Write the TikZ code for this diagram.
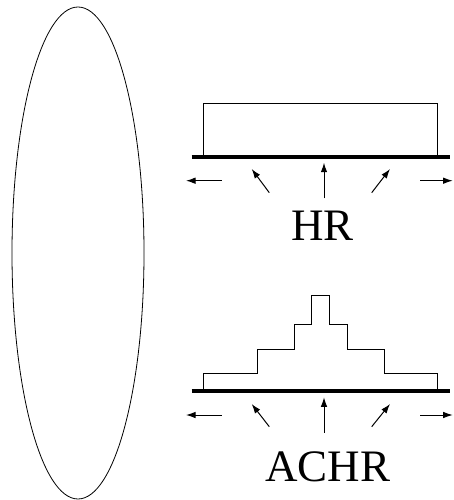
\documentclass[tikz,border=0pt]{standalone}
\usepackage{fontspec}
\setmainfont{Liberation Serif}
\usetikzlibrary{arrows.meta}
\begin{document}
\begin{tikzpicture}[x=1pt,y=-1pt,
  thin line/.style={line width=0.8pt},
  base bar/.style={line width=4pt},
  flow/.style={line width=1pt,-{Latex[length=9.5pt,width=6.5pt]}},
  caption/.style={font=\fontsize{45}{50}\selectfont,anchor=base,inner sep=0pt}]
  \useasboundingbox (0,0) rectangle (453,500);
  % the tall ellipse on the left
  \draw[thin line] (78,253) ellipse [x radius=66,y radius=246];

  % upper profile: flat block on its base
  \draw[thin line] (203.3,156.7) -- (203.3,103.3) -- (437.7,103.3) -- (437.7,156.7);
  \draw[base bar] (191.7,156.7) -- (450,156.7);
  \draw[flow] (221.7,180.7) -- (186,180.7);
  \draw[flow] (420,180.7) -- (452.7,180.7);
  \draw[flow] (269.3,192.7) -- (251.7,169);
  \draw[flow] (324,198.3) -- (324,162.7);
  \draw[flow] (371.7,192.7) -- (390,169);
  \node[caption] (hr) at (322.5,240) {HR};

  % lower profile: stepped block on its base
  \draw[thin line] (203.3,391) -- (203.3,373.3) -- (257.7,373.3) -- (257.7,349.3)
    -- (294.3,349.3) -- (294.3,324.3) -- (311.7,324.3) -- (311.7,295)
    -- (329,295) -- (329,324.3) -- (347.7,324.3) -- (347.7,349.3)
    -- (384,349.3) -- (384,373.3) -- (437.7,373.3) -- (437.7,391);
  \draw[base bar] (191.7,391) -- (450,391);
  \draw[flow] (221.7,415) -- (186,415);
  \draw[flow] (420,415) -- (452.7,415);
  \draw[flow] (269.3,426.7) -- (251.7,404);
  \draw[flow] (324,432.7) -- (324,397.3);
  \draw[flow] (371.7,426.7) -- (390,404);
  \node[caption] (achr) at (328,481.7) {ACHR};
\end{tikzpicture}
\end{document}
